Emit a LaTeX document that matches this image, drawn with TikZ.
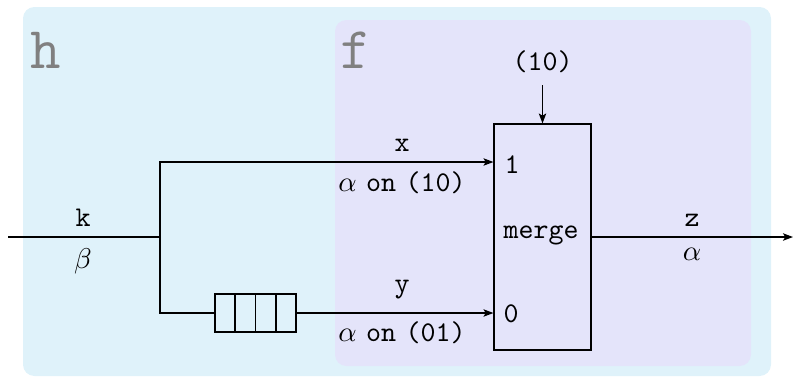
\documentclass[tikz,border=0pt]{standalone}
\usetikzlibrary{arrows.meta,calc}
\definecolor{hcol}{RGB}{223,242,250}
\definecolor{fcol}{RGB}{228,228,250}
\begin{document}
\begin{tikzpicture}[x=0.35pt,y=-0.35pt,
  >={Stealth[length=3.5pt,width=2.6pt,inset=0.8pt]},
  lbl/.style={inner sep=0pt},
  ttl/.style={inner sep=0pt,font=\ttfamily},
  region/.style={font=\huge\ttfamily,text=gray,inner sep=0pt,anchor=base west},
  mergebox/.style={draw,minimum width=33.95pt,minimum height=79.1pt,inner sep=0pt},
  queuebox/.style={draw,minimum width=28.35pt,minimum height=13.3pt,inner sep=0pt}]
\useasboundingbox (0,0) rectangle (793,377);
% regions
\fill[hcol,rounded corners=4pt] (23,7) rectangle (771,376);
\fill[fcol,rounded corners=4pt] (335,20) rectangle (751,366);
\node[region] (hlab) at (30,68) {h};
\node[region] (flab) at (340,68) {f};
% blocks
\node[mergebox] (m) at (542.5,237) {};
\node[ttl] (m1lab) at (512,165) {1};
\node[ttl] (m0lab) at (511,314) {0};
\node[ttl] (mlab) at (541,235) {merge};
\node[queuebox] (q) at (255.5,313) {};
\foreach \i in {1,2,3}
  \draw ($(q.north west)!\i/4!(q.north east)$) -- ($(q.south west)!\i/4!(q.south east)$);
\node[ttl,inner sep=4pt] (top) at (542.5,62) {(10)};
% coordinates
\coordinate (in) at (8,237);
\coordinate (sp) at (160,237);
\coordinate (out) at (793,237);
\coordinate (m1) at (m.west |- 0,162);
\coordinate (m0) at (m.west |- q.east);
% connectors
\draw (in) -- (sp);
\draw[->] (sp) |- (m1);
\draw (sp) |- (q.west);
\draw[->] (q.east) -- (m0);
\draw[->] (top.south) -- (m.north);
\draw[->] (m.east) -- (out);
% labels
\node[ttl] (klab) at (83,218) {k};
\node[lbl] (blab) at (83,261) {$\beta$};
\node[ttl] (xlab) at (402,145) {x};
\node[lbl] (xclk) at (402,183) {$\alpha$ \texttt{on} \texttt{(10)}};
\node[ttl] (ylab) at (402,290) {y};
\node[lbl] (yclk) at (402,333) {$\alpha$ \texttt{on} \texttt{(01)}};
\node[ttl] (zlab) at (692,220) {z};
\node[lbl] (alab) at (692,254) {$\alpha$};
\end{tikzpicture}
\end{document}
